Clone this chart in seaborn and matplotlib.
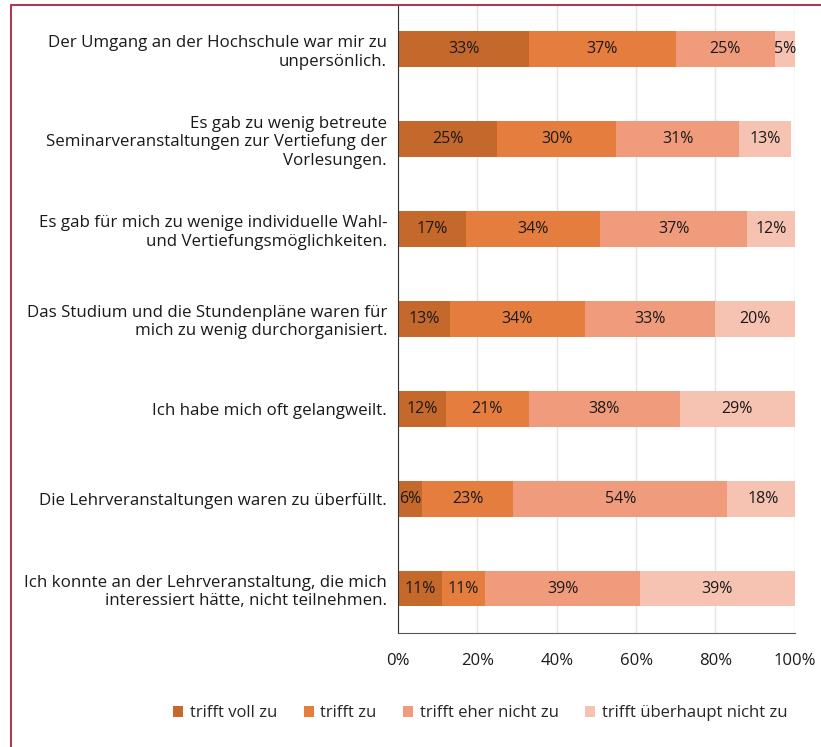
import numpy as np
import pandas as pd
import seaborn as sns
from matplotlib import pyplot as plt
from matplotlib.lines import Line2D
from matplotlib.patches import Patch

# Data
statements = [
    "Der Umgang an der Hochschule war mir zu\nunpersönlich.",
    "Es gab zu wenig betreute\nSeminarveranstaltungen zur Vertiefung der\nVorlesungen.",
    "Es gab für mich zu wenige individuelle Wahl-\nund Vertiefungsmöglichkeiten.",
    "Das Studium und die Stundenpläne waren für\nmich zu wenig durchorganisiert.",
    "Ich habe mich oft gelangweilt.",
    "Die Lehrveranstaltungen waren zu überfüllt.",
    "Ich konnte an der Lehrveranstaltung, die mich\ninteressiert hätte, nicht teilnehmen.",
]
answers = ["trifft voll zu", "trifft zu", "trifft eher nicht zu", "trifft überhaupt nicht zu"]
voll_zu = [33, 25, 17, 13, 12, 6, 11]
zu = [37, 30, 34, 34, 21, 23, 11]
eher_nicht = [25, 31, 37, 33, 38, 54, 39]
ueberhaupt_nicht = [5, 13, 12, 20, 29, 18, 39]

colors = ["#C4682C", "#E57D3F", "#F09B7C", "#F6C2B2"]

df = pd.DataFrame(
    {"statement": statements, answers[0]: voll_zu, answers[1]: zu,
     answers[2]: eher_nicht, answers[3]: ueberhaupt_nicht}
)
cum = df[answers].cumsum(axis=1)

sns.set_style("white")
plt.rcParams["font.family"] = ["Open Sans", "DejaVu Sans"]

fig = plt.figure(figsize=(8.21, 7.47), dpi=100)
ax = fig.add_axes([0.485, 0.152, 0.483, 0.842])

# stacked bars: draw cumulative totals from the back
for ans, col in reversed(list(zip(answers, colors))):
    sns.barplot(x=cum[ans], y=df["statement"], color=col, width=0.4,
                orient="h", ax=ax, saturation=1, linewidth=0, edgecolor="none",
                zorder=2)

# value labels
for i in range(len(statements)):
    left = 0
    for ans in answers:
        v = df.loc[i, ans]
        ax.text(left + v / 2, i, f"{v}%", ha="center", va="center",
                fontsize=11.5, color="#1a1a1a", zorder=3)
        left += v

ax.set_xlim(0, 100)
ax.set_ylim(len(statements) - 0.5, -0.5)
ax.set_xticks(np.arange(0, 101, 20))
ax.set_xticklabels([f"{t}%" for t in range(0, 101, 20)], fontsize=12, color="#1a1a1a")
ax.tick_params(axis="x", pad=14, length=0)
ax.tick_params(axis="y", pad=8, length=0)
for lbl in ax.get_yticklabels():
    lbl.set_fontsize(12.2)
    lbl.set_color("#1a1a1a")
    lbl.set_multialignment("right")
ax.set_xlabel("")
ax.set_ylabel("")
ax.xaxis.grid(True, color="#E4E4E4", linewidth=1, zorder=0)
ax.set_axisbelow(True)
for s in ["top", "right"]:
    ax.spines[s].set_visible(False)
ax.spines["left"].set_color("#333333")
ax.spines["bottom"].set_color("#555555")

handles = [Patch(facecolor=c, edgecolor="none") for c in colors]
fig.legend(handles, answers, loc="center", bbox_to_anchor=(0.585, 0.045), ncol=4,
           frameon=False, fontsize=12, handlelength=0.6, handleheight=0.6,
           handletextpad=0.4, columnspacing=1.6)

# thin frame at top and left
fig.add_artist(Line2D([11 / 821, 1], [1 - 5 / 747, 1 - 5 / 747], color="#B03A55", lw=1.5))
fig.add_artist(Line2D([11 / 821, 11 / 821], [0, 1 - 5 / 747], color="#B03A55", lw=1.5))

fig.savefig("out.png", dpi=100)
